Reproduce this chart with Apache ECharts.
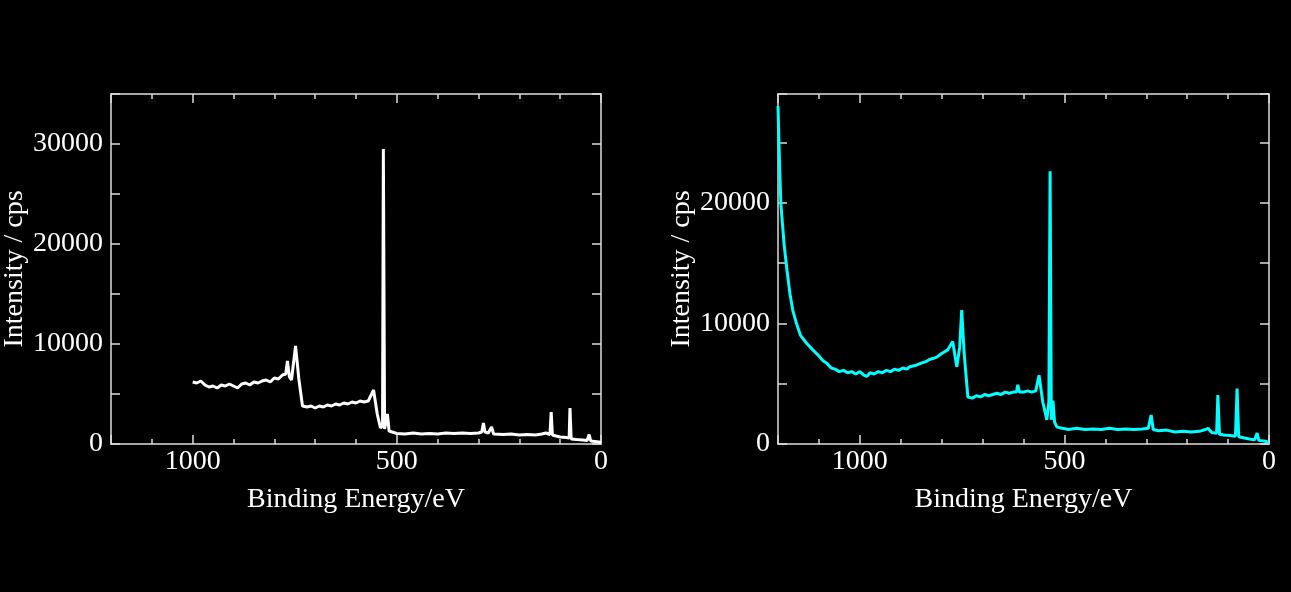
<!DOCTYPE html>
<html>
<head>
<meta charset="utf-8">
<script src="https://cdn.jsdelivr.net/npm/echarts@6/dist/echarts.min.js"></script>
<style>html,body{margin:0;background:#000}#main{width:1291px;height:592px}</style>
</head>
<body>
<div id="main"></div>
<script>
// left spectrum [binding energy, intensity]
const leftSpectrum = [
  [1000,6200],[990,6100],[980,6300],[970,5900],[960,5700],[950,5800],[940,5600],[930,5900],[920,5800],[910,6000],
  [900,5800],[890,5600],[880,6000],[870,6100],[860,5900],[850,6200],[840,6100],[830,6300],[820,6400],[810,6200],
  [800,6600],[790,6500],[780,6900],[772,7000],[768,8300],[763,6700],[758,6400],[748,9800],[740,6500],[731,3800],
  [720,3700],[710,3800],[700,3600],[690,3800],[680,3700],[670,3900],[660,3800],[650,4000],[640,3900],[630,4100],
  [620,4000],[610,4200],[600,4100],[590,4300],[580,4200],[570,4300],[557,5400],[548,3000],[540,1600],[535,1800],
  [533,29500],[530,1500],[526,1600],[523,3000],[519,1300],[515,1100],[500,1050],[480,1000],[460,1100],[440,1000],
  [420,1050],[400,1000],[380,1100],[360,1050],[340,1100],[320,1050],[300,1100],[292,1200],[288,2100],[284,1200],
  [276,1100],[268,1700],[263,1000],[240,950],[220,1000],[200,900],[180,950],[160,900],[145,1000],[135,1100],
  [125,950],[122,3200],[119,900],[110,800],[100,700],[85,650],[78,600],[76,3600],[73,500],[60,450],[45,400],
  [34,350],[29,950],[25,300],[15,250],[5,200],[0,150]
];
// right spectrum [binding energy, intensity]
const rightSpectrum = [
  [1200,28000],[1196,23000],[1193,19900],[1185,16500],[1178,14400],[1171,12500],[1164,11100],[1155,10000],[1145,9000],[1130,8350],
  [1115,7800],[1100,7300],[1090,6900],[1081,6700],[1070,6300],[1060,6200],[1050,6000],[1040,6100],[1030,5900],[1020,6000],
  [1010,5800],[1000,6000],[990,5700],[983,5600],[975,5900],[965,5800],[955,6000],[945,5900],[935,6100],[925,6000],
  [915,6200],[905,6100],[895,6300],[885,6200],[878,6400],[865,6500],[850,6700],[840,6800],[830,7000],[820,7100],
  [812,7200],[800,7500],[785,7800],[773,8500],[767,7200],[763,6400],[756,8000],[751,11100],[745,7500],[736,3900],
  [725,3800],[715,4000],[705,3900],[695,4100],[685,4000],[675,4100],[665,4200],[655,4100],[645,4300],[635,4200],
  [625,4300],[617,4300],[614,4900],[610,4300],[600,4300],[590,4400],[580,4300],[570,4400],[562,5700],[553,3500],
  [543,2000],[538,3500],[535,22600],[532,2000],[528,3600],[524,1800],[518,1400],[505,1300],[490,1200],[470,1300],
  [450,1200],[430,1250],[410,1200],[390,1300],[370,1200],[350,1250],[330,1200],[310,1250],[295,1300],[288,2400],
  [283,1200],[270,1100],[250,1150],[230,1000],[210,1050],[190,1000],[170,1050],[155,1200],[149,1300],[140,950],
  [128,900],[125,4050],[121,800],[110,750],[95,700],[82,650],[78,4600],[74,600],[60,500],[45,400],
  [35,350],[29,900],[25,300],[12,250],[0,150]
];
const xTicks = [0, 500, 1000];
const leftYMax = 35000;
const rightYMax = 29000;

const font = '"Liberation Serif", "DejaVu Serif", serif';
const grids = [
  {left:111, width:490, top:94, height:350, containLabel:false, outerBoundsMode:'none'},
  {left:778, width:491, top:94, height:350, containLabel:false, outerBoundsMode:'none'}
];
function xAx(g, mirror) {
  return {
    type:'value', gridIndex:g, inverse:true, min:0, max:1200, interval:500,
    position: mirror ? 'top' : 'bottom',
    name: mirror ? '' : 'Binding Energy/eV', nameLocation:'middle', nameGap:42,
    nameTextStyle:{color:'#fff', fontFamily:font, fontSize:28},
    axisLine:{show:true, onZero:false, lineStyle:{color:'#ddd', width:1.5}},
    axisTick:{show:true, inside:true, length:9, lineStyle:{color:'#ddd', width:1.5}},
    minorTick:{show:true, splitNumber:5, length:5, lineStyle:{color:'#ddd', width:1.5}},
    axisLabel:{show:!mirror, color:'#fff', fontFamily:font, fontSize:28, margin:4,
      showMaxLabel:false, formatter: v => xTicks.includes(v) ? String(v) : ''},
    splitLine:{show:false}
  };
}
function yAx(g, max, mirror) {
  return {
    type:'value', gridIndex:g, min:0, max:max, interval:10000,
    position: mirror ? 'right' : 'left',
    name: mirror ? '' : 'Intensity / cps', nameLocation:'middle', nameGap:82,
    nameTextStyle:{color:'#fff', fontFamily:font, fontSize:28},
    axisLine:{show:true, onZero:false, lineStyle:{color:'#ddd', width:1.5}},
    axisTick:{show:true, inside:true, length:9, lineStyle:{color:'#ddd', width:1.5}},
    minorTick:{show:true, splitNumber:2, length:9, lineStyle:{color:'#ddd', width:1.5}},
    axisLabel:{show:!mirror, color:'#fff', fontFamily:font, fontSize:28, margin:8,
      showMaxLabel:false, formatter: v => String(v)},
    splitLine:{show:false}
  };
}
const chart = echarts.init(document.getElementById('main'));
chart.setOption({
  backgroundColor:'#000',
  animation:false,
  grid: grids,
  xAxis:[xAx(0,false), xAx(1,false), xAx(0,true), xAx(1,true)],
  yAxis:[yAx(0,leftYMax,false), yAx(1,rightYMax,false), yAx(0,leftYMax,true), yAx(1,rightYMax,true)],
  series:[
    {type:'line', xAxisIndex:0, yAxisIndex:0, data:leftSpectrum, showSymbol:false, lineStyle:{color:'#fff', width:3}},
    {type:'line', xAxisIndex:1, yAxisIndex:1, data:rightSpectrum, showSymbol:false, lineStyle:{color:'#00ffff', width:3}}
  ]
});
</script>
</body>
</html>
